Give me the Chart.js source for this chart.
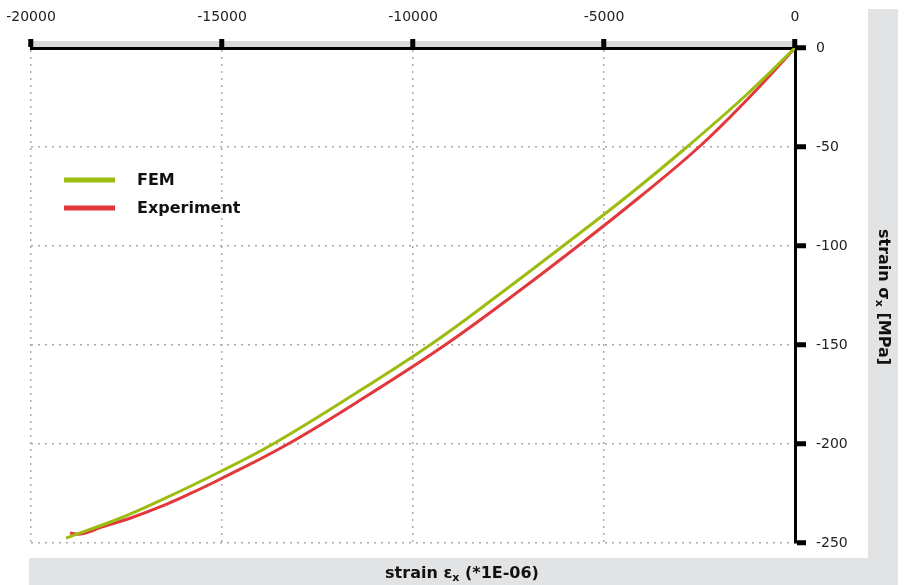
<!DOCTYPE html>
<html>
<head>
<meta charset="utf-8">
<script src="https://cdn.jsdelivr.net/npm/chart.js@4.4.1/dist/chart.umd.min.js"></script>
<style>
  html, body { margin: 0; padding: 0; background: #fff; }
  #wrap { width: 913px; height: 585px; position: relative; }
</style>
</head>
<body>
<div id="wrap"><canvas id="c"></canvas></div>
<script>
// strain (*1E-06) vs stress (MPa)
const femStrain = [0, -1350, -2830, -4400, -6073, -7780, -9555, -11550, -13665, -15052, -16623, -17670, -19084];
const femStress = [0, -25, -50, -75, -100, -125, -150, -175, -200, -214.0, -228.6, -237.5, -247.5];
const expStrain = [0, -1200, -2513, -4050, -5681, -7380, -9162, -11150, -13272, -15052, -15838, -16623, -17408, -18194, -18455, -18717, -18979];
const expStress = [0, -25, -50, -75, -100, -125, -150, -175, -200, -217.8, -225.1, -231.8, -237.5, -242.2, -244.2, -245.5, -245.0];
const seriesLabels = ['FEM', 'Experiment'];
const xTicks = [-20000, -15000, -10000, -5000, 0];
const yTicks = [-250, -200, -150, -100, -50, 0];

const FONT = '"DejaVu Sans", sans-serif';
const pts = (xs, ys) => xs.map((x, i) => ({ x, y: ys[i] }));

// grey frame strips + thin band over the top axis
const backdrop = {
  id: 'backdrop',
  beforeDraw(chart) {
    const { ctx, chartArea: a } = chart;
    ctx.save();
    ctx.fillStyle = '#e2e3e5';
    ctx.fillRect(868, 9, 30, 576);
    ctx.fillRect(29, 558, 869, 27);
    ctx.fillStyle = '#d8d9db';
    ctx.fillRect(a.left, a.top - 7, a.right - a.left, 6);
    ctx.restore();
  }
};

// legend and axis titles (with subscripts)
const decor = {
  id: 'decor',
  afterDraw(chart) {
    const { ctx } = chart;
    ctx.save();
    chart.data.datasets.forEach((ds, i) => {
      const y = 180 + i * 28;
      ctx.strokeStyle = ds.borderColor;
      ctx.lineWidth = 5;
      ctx.beginPath(); ctx.moveTo(64, y); ctx.lineTo(115, y); ctx.stroke();
      ctx.fillStyle = '#111';
      ctx.font = 'bold 16px ' + FONT;
      ctx.textBaseline = 'middle';
      ctx.fillText(ds.label, 137, y + 1);
    });

    function subTitle(parts, cx, cy, rot) {
      ctx.save();
      ctx.translate(cx, cy);
      ctx.rotate(rot);
      const big = 'bold 16px ' + FONT, small = 'bold 11px ' + FONT;
      let w = 0;
      parts.forEach(p => { ctx.font = p.sub ? small : big; w += ctx.measureText(p.t).width; });
      let x = -w / 2;
      ctx.textBaseline = 'middle';
      ctx.fillStyle = '#111';
      parts.forEach(p => {
        ctx.font = p.sub ? small : big;
        ctx.fillText(p.t, x, p.sub ? 4 : 0);
        x += ctx.measureText(p.t).width;
      });
      ctx.restore();
    }
    subTitle([{ t: 'strain ε' }, { t: 'x', sub: true }, { t: ' (*1E-06)' }], 462, 574, 0);
    subTitle([{ t: 'strain σ' }, { t: 'x', sub: true }, { t: ' [MPa]' }], 883, 297, Math.PI / 2);
    ctx.restore();
  }
};

new Chart(document.getElementById('c'), {
  type: 'line',
  data: {
    datasets: [
      { label: seriesLabels[0], data: pts(femStrain, femStress), borderColor: '#9cbd10', borderWidth: 3, pointRadius: 0, tension: 0.4 },
      { label: seriesLabels[1], data: pts(expStrain, expStress), borderColor: '#e2383c', borderWidth: 3, pointRadius: 0, tension: 0.4 }
    ]
  },
  options: {
    responsive: true,
    maintainAspectRatio: false,
    animation: false,
    layout: { padding: { left: 31, right: 0, top: 0, bottom: 42 } },
    plugins: { legend: { display: false }, tooltip: { enabled: false } },
    scales: {
      x: {
        type: 'linear', position: 'top', min: -20000, max: 0,
        afterBuildTicks: s => { s.ticks = xTicks.map(v => ({ value: v })); },
        afterFit: s => { s.height = 48; s.paddingLeft = 0; s.paddingRight = 0; },
        ticks: { padding: 13, color: '#222', maxRotation: 0, font: { family: FONT, size: 14 }, callback: v => String(v) },
        grid: { color: '#a9a9a9', lineWidth: 1.5, tickColor: '#000', tickWidth: 5, tickLength: 9 },
        border: { color: '#000', width: 3, dash: [2, 5] }
      },
      y: {
        type: 'linear', position: 'right', min: -250, max: 0,
        afterBuildTicks: s => { s.ticks = yTicks.map(v => ({ value: v })); },
        afterFit: s => { s.width = 118; s.paddingTop = 0; s.paddingBottom = 0; },
        ticks: { padding: 10, color: '#222', font: { family: FONT, size: 14 }, callback: v => String(v) },
        grid: { color: '#a9a9a9', lineWidth: 1.5, tickColor: '#000', tickWidth: 5, tickLength: 11 },
        border: { color: '#000', width: 3, dash: [2, 5] }
      }
    }
  },
  plugins: [backdrop, decor]
});
</script>
</body>
</html>
